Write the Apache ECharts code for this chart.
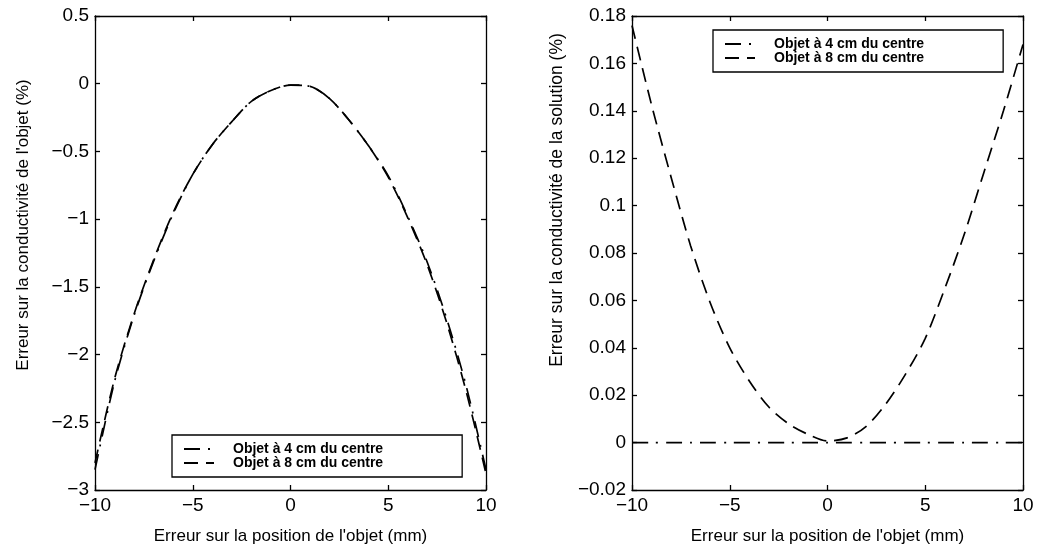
<!DOCTYPE html>
<html>
<head>
<meta charset="utf-8">
<script src="https://cdn.jsdelivr.net/npm/echarts@6/dist/echarts.min.js"></script>
<style>
html,body{margin:0;padding:0;background:#fff;}
#chart{width:1042px;height:552px;}
</style>
</head>
<body>
<div id="chart"></div>
<script>
// ---- data ----
var positions = [-10,-9,-8,-7,-6,-5,-4,-3,-2,-1,0,1,2,3,4,5,6,7,8,9,10];
var seriesNames = ['Objet à 4 cm du centre', 'Objet à 8 cm du centre'];
// left panel: error on object conductivity (%)
var leftObj4 = [-2.85,-2.20,-1.71,-1.31,-0.96,-0.67,-0.45,-0.28,-0.13,-0.05,-0.01,-0.02,-0.11,-0.27,-0.46,-0.68,-0.98,-1.32,-1.74,-2.24,-2.85];
var leftObj8 = [-2.80,-2.18,-1.70,-1.30,-0.95,-0.67,-0.45,-0.28,-0.13,-0.05,-0.01,-0.02,-0.11,-0.27,-0.46,-0.69,-0.99,-1.34,-1.77,-2.28,-2.88];
// right panel: error on solution conductivity (%)
var rightObj4 = [0,0,0,0,0,0,0,0,0,0,0,0,0,0,0,0,0,0,0,0,0];
var rightObj8 = [0.176,0.1425,0.112,0.083,0.059,0.040,0.026,0.015,0.008,0.0035,0.0007,0.002,0.007,0.0165,0.029,0.044,0.065,0.088,0.114,0.140,0.168];
var xTitle = "Erreur sur la position de l'objet (mm)";
var yTitleLeft = "Erreur sur la conductivité de l'objet (%)";
var yTitleRight = "Erreur sur la conductivité de la solution (%)";

function pairs(xs, ys){ return xs.map(function(x,i){ return [x, ys[i]]; }); }
function fmt(v){ var s = String(Number(v.toFixed(3))); return s.replace('-', '\u2212'); }

var FONT = 'Liberation Sans';
var black = '#000';
var DASHDOT = [16,8,2,8];
var DASHED = [14,8];

function xAx(grid, pos, labels){
  return {
    type:'value', gridIndex:grid, position:pos, min:-10, max:10, interval:5,
    axisLine:{show:true, onZero:false, lineStyle:{color:black, width:1.3}},
    axisTick:{show:true, inside:true, length:5, lineStyle:{color:black, width:1.3}},
    splitLine:{show:false},
    axisLabel:{show:labels, color:black, fontFamily:FONT, fontSize:19, margin:6, formatter:fmt},
    name: labels ? xTitle : '', nameLocation:'middle', nameGap:38,
    nameTextStyle:{color:black, fontFamily:FONT, fontSize:17}
  };
}
function yAx(grid, pos, labels, min, max, interval, name, gap, shift, fs){
  return {
    type:'value', gridIndex:grid, position:pos, min:min, max:max, interval:interval,
    axisLine:{show:true, onZero:false, lineStyle:{color:black, width:1.3}},
    axisTick:{show:true, inside:true, length:5, lineStyle:{color:black, width:1.3}},
    splitLine:{show:false},
    axisLabel:{show:labels, color:black, fontFamily:FONT, fontSize:19, margin:6, formatter:fmt},
    name: labels ? name : '', nameLocation:'middle', nameGap:gap,
    nameTextStyle:{color:black, fontFamily:FONT, fontSize:fs, padding:[0,0,0,shift]}
  };
}
function lineSeries(name, xi, yi, data, dash){
  return {
    name:name, type:'line', xAxisIndex:xi, yAxisIndex:yi, data:data,
    showSymbol:false, symbol:'none', smooth:0.3, animation:false,
    lineStyle:{color:black, width:1.7, type:dash},
    itemStyle:{color:black}
  };
}
function legendBox(left, top){
  return {
    left:left, top:top, orient:'vertical', data:seriesNames,
    itemWidth:30, itemHeight:14, itemGap:0,
    padding:[7,79,7,11],
    borderColor:black, borderWidth:1.3, backgroundColor:'#fff',
    selectedMode:false,
    itemStyle:{opacity:0},
    textStyle:{color:black, fontFamily:FONT, fontSize:14, fontWeight:'bold', padding:[0,0,0,14]}
  };
}

var chart = echarts.init(document.getElementById('chart'), null, {renderer:'canvas'});
chart.setOption({
  backgroundColor:'#fff',
  animation:false,
  grid:[
    {left:95, right:556, top:16, bottom:62, show:false},
    {left:632, right:19, top:16, bottom:62, show:false}
  ],
  xAxis:[ xAx(0,'bottom',true), xAx(0,'top',false), xAx(1,'bottom',true), xAx(1,'top',false) ],
  yAxis:[
    yAx(0,'left',true,-3,0.5,0.5,yTitleLeft,63,56,17),
    yAx(0,'right',false,-3,0.5,0.5,'',0,0,17),
    yAx(1,'left',true,-0.02,0.18,0.02,yTitleRight,66,106,17.5),
    yAx(1,'right',false,-0.02,0.18,0.02,'',0,0,17)
  ],
  legend:[ legendBox(172,435), legendBox(713,30) ],
  series:[
    lineSeries(seriesNames[0],0,0,pairs(positions,leftObj4),DASHDOT),
    lineSeries(seriesNames[1],0,0,pairs(positions,leftObj8),DASHED),
    lineSeries(seriesNames[0],2,2,pairs(positions,rightObj4),DASHDOT),
    lineSeries(seriesNames[1],2,2,pairs(positions,rightObj8),DASHED)
  ]
});
</script>
</body>
</html>
